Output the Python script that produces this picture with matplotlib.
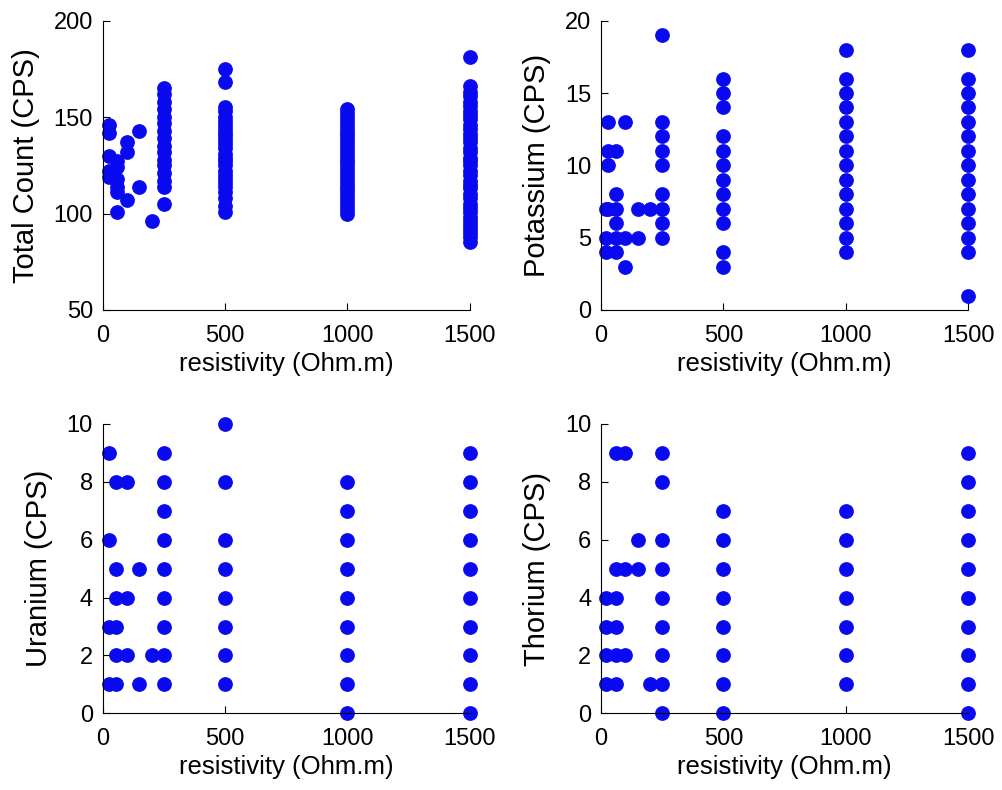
import matplotlib
matplotlib.use('Agg')
import matplotlib.pyplot as plt

plt.rcParams['font.family'] = ['Liberation Sans', 'DejaVu Sans']

# resistivity (Ohm.m) / counts
tc_res = ([25] * 5 + [60] * 6 + [100] * 3 + [150] * 2 + [200]
          + [250] * 16 + [500] * 26 + [1000] * 28 + [1500] * 36)
tc_val = [146, 142, 130, 122, 119,
          127, 124, 118, 114, 111, 101,
          137, 132, 107,
          143, 114,
          96,
          165, 162, 158, 154, 150, 147, 143, 139, 135, 132, 128, 125, 121, 117, 114, 105,
          175, 168, 155, 153, 150, 148, 146, 144, 142, 140, 138, 136, 134, 131, 129, 127,
          125, 122, 120, 118, 116, 114, 111, 108, 104, 101,
          100, 102, 104, 106, 108, 110, 112, 114, 116, 118, 120, 122, 124, 126,
          128, 130, 132, 134, 136, 138, 140, 142, 144, 146, 148, 150, 152, 154,
          181, 166, 163, 161, 158, 156, 153, 151, 149, 146, 144, 141, 139, 137,
          134, 132, 129, 127, 125, 122, 120, 117, 115, 113, 110, 108, 105, 103,
          101, 98, 96, 94, 92, 90, 88, 85]

k_res = ([20] * 3 + [30] * 4 + [60] * 6 + [100] * 3 + [150] * 2 + [200]
         + [250] * 9 + [500] * 12 + [1000] * 14 + [1500] * 15)
k_val = [7, 5, 4,
         13, 11, 10, 7,
         11, 8, 7, 6, 5, 4,
         13, 5, 3,
         7, 5,
         7,
         19, 13, 12, 11, 10, 8, 7, 6, 5,
         16, 15, 14, 12, 11, 10, 9, 8, 7, 6, 4, 3,
         18, 16, 15, 14, 13, 12, 11, 10, 9, 8, 7, 6, 5, 4,
         18, 16, 15, 14, 13, 12, 11, 10, 9, 8, 7, 6, 5, 4, 1]

u_res = ([25] * 4 + [55] * 6 + [100] * 3 + [150] * 2 + [200]
         + [250] * 9 + [500] * 8 + [1000] * 9 + [1500] * 10)
u_val = [9, 6, 3, 1,
         8, 5, 4, 3, 2, 1,
         8, 4, 2,
         5, 1,
         2,
         9, 8, 7, 6, 5, 4, 3, 2, 1,
         10, 8, 6, 5, 4, 3, 2, 1,
         8, 7, 6, 5, 4, 3, 2, 1, 0,
         9, 8, 7, 6, 5, 4, 3, 2, 1, 0]

th_res = ([20] * 4 + [60] * 6 + [100] * 3 + [150] * 2 + [200]
          + [250] * 9 + [500] * 8 + [1000] * 7 + [1500] * 10)
th_val = [4, 3, 2, 1,
          9, 5, 4, 3, 2, 1,
          9, 5, 2,
          6, 5,
          1,
          9, 8, 6, 5, 4, 3, 2, 1, 0,
          7, 6, 5, 4, 3, 2, 1, 0,
          7, 6, 5, 4, 3, 2, 1,
          9, 8, 7, 6, 5, 4, 3, 2, 1, 0]

panels = [
    (tc_res, tc_val, 'Total Count (CPS)', (50, 200), [50, 100, 150, 200]),
    (k_res, k_val, 'Potassium (CPS)', (0, 20), [0, 5, 10, 15, 20]),
    (u_res, u_val, 'Uranium (CPS)', (0, 10), [0, 2, 4, 6, 8, 10]),
    (th_res, th_val, 'Thorium (CPS)', (0, 10), [0, 2, 4, 6, 8, 10]),
]

W, H = 1002, 790
fig = plt.figure(figsize=(W / 100, H / 100), dpi=100)

lefts = [102.7, 601]
tops = [20.7, 424]
bottoms = [310, 713.3]
ax_w = 367

for i, (xs, ys, ylab, ylim, yticks) in enumerate(panels):
    row, col = divmod(i, 2)
    l = lefts[col]
    t, b = tops[row], bottoms[row]
    ax = fig.add_axes([l / W, (H - b) / H, ax_w / W, (b - t) / H])
    ax.plot(xs, ys, 'o', color='#0a0af0', ms=9.6, mec='#0a0af0', clip_on=False)
    ax.set_xlim(0, 1500)
    ax.set_ylim(*ylim)
    ax.set_xticks([0, 500, 1000, 1500])
    ax.set_yticks(yticks)
    ax.spines['top'].set_visible(False)
    ax.spines['right'].set_visible(False)
    ax.tick_params(direction='in', length=5, width=0.8, labelsize=17)
    ax.tick_params(axis='x', pad=10.5)
    ax.tick_params(axis='y', pad=7)
    ax.set_xlabel('resistivity (Ohm.m)', fontsize=18.5, labelpad=4)
    ax.set_ylabel(ylab, fontsize=21, labelpad=10)

fig.savefig('out.png', dpi=100)
